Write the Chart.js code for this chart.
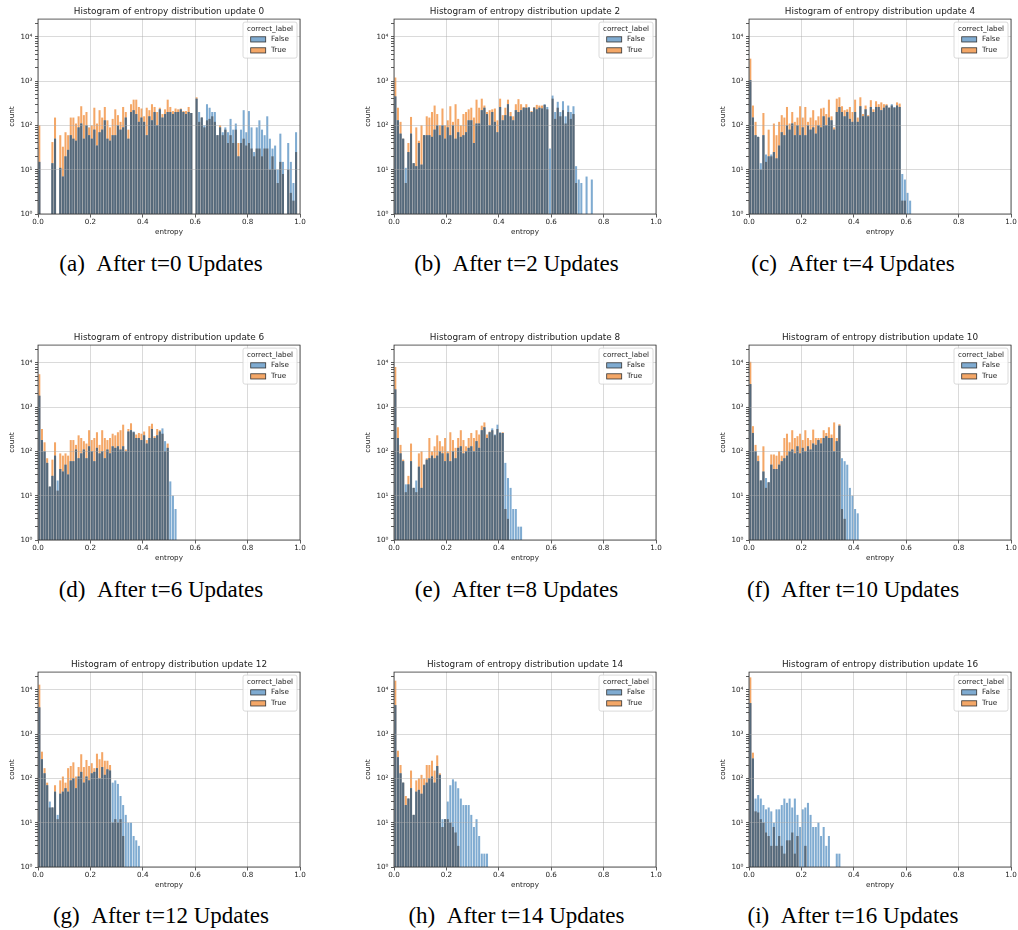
<!DOCTYPE html>
<html>
<head>
<meta charset="utf-8">
<script src="https://cdn.jsdelivr.net/npm/chart.js@4.4.0/dist/chart.umd.min.js"></script>
<style>
  body { margin: 0; background: #fff; width: 1018px; height: 930px; position: relative; overflow: hidden; }
  canvas { position: absolute; }
  .cap { position: absolute; width: 320px; text-align: center; font-family: 'Liberation Serif', 'Times New Roman', serif;
         font-size: 23px; line-height: 1; color: #000; white-space: nowrap; }
</style>
</head>
<body>
<script>
// histogram counts per 0.01-wide entropy bin, starting at 0.0
const binWidth = 0.01;
const updates = [0, 2, 4, 6, 8, 10, 12, 14, 16];
const letters = ['a', 'b', 'c', 'd', 'e', 'f', 'g', 'h', 'i'];
const xTicks = [0, 0.2, 0.4, 0.6, 0.8, 1.0];
const yDecades = [1, 10, 100, 1000, 10000];

const false0 = [15,0,0,0,0,14,50,0,11,7, 20,28,60,50,45,90,110,50,100,60, 50,80,35,70,80,130,50,45,60,60,
  100,80,90,150,50,200,220,180,120,150, 120,60,160,130,200,100,230,150,180,200, 200,180,200,200,230,200,180,200,190,0,
  400,200,150,100,300,250,200,200,60,90, 70,90,70,140,80,110,20,80,220,70, 210,90,25,90,130,80,60,160,50,30,
  35,10,65,15,0,40,15,5,70];
const true0 = [100,0,0,0,0,42,150,0,60,33, 70,60,150,150,110,160,270,170,200,90, 100,250,110,220,150,260,130,90,140,230,
  170,120,260,200,80,300,380,380,260,240, 160,250,220,300,260,200,250,180,230,380, 260,210,240,230,240,210,210,260,190,0,
  430,120,150,90,130,140,160,120,60,100, 60,80,40,60,40,80,40,40,50,35, 40,30,20,30,30,20,30,30,10,20,
  10,5,15,8,0,10,3,2,25];

const false2 = [450,130,65,50,11,25,65,14,12,40, 13,60,60,60,55,80,100,60,100,50, 90,60,100,50,70,55,60,70,130,130,
  40,110,110,220,250,180,100,200,120,70, 260,130,170,300,160,130,220,200,220,250, 250,260,200,250,230,250,240,300,260,30,
  470,200,340,200,350,160,280,200,270,12, 6,5,0,7,0,6];
const true2 = [1200,250,120,50,5,40,155,14,90,45, 100,60,160,150,200,280,180,100,240,100, 130,270,120,300,140,100,180,200,230,250,
  150,380,250,400,280,200,220,230,240,130, 400,170,250,380,200,160,300,390,300,260, 300,250,210,260,290,280,280,290,230,0,
  400,140,250,160,220,110,200,140,180,5, 0,0,0,0,0,0];

const false4 = [1050,150,60,55,14,60,22,20,22,25, 18,35,70,60,100,80,110,60,100,60, 90,60,100,80,90,65,100,90,160,100,
  150,130,80,200,260,200,160,200,140,120, 200,120,270,160,230,160,260,200,260,260, 220,250,280,250,300,260,280,260,8,6,
  3,2];
const true4 = [3200,280,120,55,10,190,15,80,20,110, 60,120,170,150,260,110,200,120,150,270, 150,260,120,150,220,130,160,240,250,180,
  380,160,90,400,430,270,220,230,260,200, 380,150,430,180,280,170,370,230,350,300, 330,300,300,250,280,250,330,310,2,2,
  0,0];

const false6 = [1800,180,100,55,16,28,80,22,40,35, 50,30,60,60,110,70,90,110,70,130, 100,60,120,90,100,70,110,90,130,120,
  130,110,130,100,280,300,280,200,200,180, 230,150,200,320,200,230,280,330,170,120, 21,10,5];
const true6 = [5500,320,160,70,16,65,160,13,90,80, 90,80,180,180,140,230,200,170,150,300, 180,200,270,140,300,200,180,200,250,230,
  270,300,400,110,320,430,270,240,260,250, 280,180,370,420,220,320,300,250,100,150, 0,0,0];

const false8 = [2500,200,90,60,18,18,60,15,22,45, 15,50,65,70,80,70,80,100,90,60, 90,60,100,70,120,130,90,100,120,130,
  100,170,120,300,350,200,270,330,240,400, 270,260,55,25,15,5,5,2,2];
const true8 = [8000,350,140,65,12,28,150,15,12,90, 100,50,70,200,100,130,230,170,130,200, 100,270,180,120,200,300,180,130,200,260,
  200,300,240,380,450,240,280,300,230,320, 260,270,5,3,0,0,0,0,0];

const false10 = [3300,260,100,60,22,35,25,20,50,40, 40,50,60,70,80,100,110,90,130,90, 120,100,130,110,150,140,180,150,200,220,
  200,200,100,170,380,70,60,50,15,10, 5,4];
const true10 = [10500,370,140,80,22,130,15,20,85,85, 80,100,80,200,250,160,300,200,220,250, 180,300,200,180,310,200,200,200,300,260,
  350,240,450,200,410,5,3,1,0,0, 0,0];

const false12 = [4000,270,130,70,30,22,50,15,45,50, 60,50,90,100,60,110,140,80,110,90, 130,140,170,100,180,120,160,150,80,90,
  75,40,25,15,10,10,5,4,3];
const true12 = [13000,400,170,80,22,22,70,12,90,110, 80,170,190,230,110,180,350,180,260,190, 220,170,360,270,390,250,250,200,10,12,
  10,12,5,1,0,0,0,0,0];

const false14 = [4500,300,130,80,25,35,60,15,50,55, 45,70,80,100,110,80,190,120,12,12, 30,70,95,85,60,35,25,25,25,15,
  8,12,5,2,2,2];
const true14 = [16000,420,200,80,40,35,150,15,90,100, 120,100,200,200,250,150,330,130,8,12, 12,10,8,6,3,1,0,0,0,0,
  0,0,0,0,0,0];

const false16 = [5000,280,35,42,35,25,20,22,18,10, 20,20,25,35,28,35,22,35,15,8, 20,22,28,15,8,8,10,5,8,3,
  5,0,0,2,2];
const true16 = [19000,380,18,17,12,10,6,5,3,8, 3,5,3,2,4,4,6,2,5,1, 0,3,1,0,0,0,0,0,0,0,
  0,0,0,0,0];

const falseCounts = [false0, false2, false4, false6, false8, false10, false12, false14, false16];
const trueCounts = [true0, true2, true4, true6, true8, true10, true12, true14, true16];

// page layout
const canvasLefts = [0, 356, 711];
const canvasTops = [0, 326, 653];
const capX = [161, 516.5, 853];
const capY = [264, 590, 916];
const W = 308, H = 240;

const blueTip = '#7fabd1';
const orangeTip = '#f4a767';
const overlapCol = '#56697a';

Chart.defaults.font.family = "'DejaVu Sans', sans-serif";
Chart.defaults.color = '#222';

function toPoints(counts) {
  return counts.map((c, i) => ({ x: (i + 0.5) * binWidth, y: c > 0 ? c : null }));
}

function isDecade(v) {
  return yDecades.includes(v);
}

const supers = ['⁰', '¹', '²', '³', '⁴'];

const frameAndLegend = {
  id: 'frameAndLegend',
  afterDraw(chart) {
    const { ctx, chartArea: a } = chart;
    ctx.save();
    ctx.strokeStyle = '#333';
    ctx.lineWidth = 0.8;
    ctx.strokeRect(a.left, a.top, a.right - a.left, a.bottom - a.top);

    // legend box, top right
    const w = 54, h = 36;
    const x = a.right - w - 3, y = a.top + 3;
    ctx.fillStyle = 'rgba(255,255,255,0.85)';
    ctx.strokeStyle = '#d0d0d0';
    ctx.lineWidth = 0.8;
    ctx.beginPath();
    ctx.roundRect(x, y, w, h, 2);
    ctx.fill();
    ctx.stroke();
    ctx.fillStyle = '#222';
    ctx.font = "7.2px 'DejaVu Sans'";
    ctx.textAlign = 'center';
    ctx.textBaseline = 'middle';
    ctx.fillText('correct_label', x + w / 2, y + 6.8);
    ctx.textAlign = 'left';
    [['False', blueTip, 17.3], ['True', orangeTip, 28.3]].forEach(([label, col, dy]) => {
      ctx.fillStyle = col;
      ctx.fillRect(x + 7.7, y + dy - 2.6, 15, 5.2);
      ctx.strokeStyle = '#333';
      ctx.lineWidth = 0.8;
      ctx.strokeRect(x + 7.7, y + dy - 2.6, 15, 5.2);
      ctx.fillStyle = '#222';
      ctx.fillText(label, x + 28, y + dy);
    });
    ctx.restore();
  }
};

updates.forEach((u, k) => {
  const row = Math.floor(k / 3), col = k % 3;
  const canvas = document.createElement('canvas');
  canvas.width = W;
  canvas.height = H;
  canvas.style.left = canvasLefts[col] + 'px';
  canvas.style.top = canvasTops[row] + 'px';
  document.body.appendChild(canvas);

  const f = falseCounts[k], t = trueCounts[k];
  const overlap = f.map((v, i) => Math.min(v, t[i]));
  const barOpts = { grouped: false, barPercentage: 0.78, categoryPercentage: 1, borderWidth: 0 };

  new Chart(canvas.getContext('2d'), {
    type: 'bar',
    data: {
      datasets: [
        { label: 'both', data: toPoints(overlap), backgroundColor: overlapCol, order: 0, ...barOpts },
        { label: 'False', data: toPoints(f), backgroundColor: blueTip, order: 1, ...barOpts },
        { label: 'True', data: toPoints(t), backgroundColor: orangeTip, order: 2, ...barOpts }
      ]
    },
    options: {
      responsive: false,
      animation: false,
      layout: { padding: { right: 8 } },
      plugins: {
        legend: { display: false },
        tooltip: { enabled: false },
        title: {
          display: true,
          fullSize: false,
          text: 'Histogram of entropy distribution update ' + u,
          font: { size: 8.9, weight: 'normal' },
          color: '#222',
          padding: { top: 6, bottom: 2.4 }
        }
      },
      scales: {
        x: {
          type: 'linear',
          min: 0,
          max: 1,
          offset: false,
          afterFit: s => { s.height = 26; },
          afterBuildTicks: s => { s.ticks = xTicks.map(v => ({ value: v })); },
          grid: { offset: false, z: 1, color: 'rgba(170,170,170,0.55)', lineWidth: 0.8,
                  tickColor: '#333', tickLength: 3.5 },
          border: { display: false },
          ticks: { font: { size: 7.2 }, padding: 0.5, maxRotation: 0, autoSkip: false,
                   callback: v => Number(v).toFixed(1) },
          title: { display: true, text: 'entropy', font: { size: 7.2 }, padding: { top: 0, bottom: 4 } }
        },
        y: {
          type: 'logarithmic',
          min: 1,
          max: 25000,
          afterFit: s => { s.width = 38; },
          afterBuildTicks: s => {
            const ticks = [];
            yDecades.forEach(d => {
              for (let m = 1; m <= 9; m++) {
                if (d * m <= 25000) ticks.push({ value: d * m, major: m === 1 });
              }
            });
            s.ticks = ticks;
          },
          grid: { z: 1, lineWidth: 0.8,
                  color: c => (c.tick && isDecade(c.tick.value)) ? 'rgba(170,170,170,0.55)' : 'rgba(0,0,0,0)',
                  tickColor: '#333', tickLength: 3 },
          border: { display: false },
          ticks: { font: { size: 7.2 }, padding: 2.5, autoSkip: false,
                   callback: v => isDecade(v) ? '10' + supers[Math.round(Math.log10(v))] : '' },
          title: { display: true, text: 'count', font: { size: 7.2 }, padding: { top: 8, bottom: 0 } }
        }
      }
    },
    plugins: [frameAndLegend]
  });

  const cap = document.createElement('div');
  cap.className = 'cap';
  cap.textContent = '(' + letters[k] + ')\u2002After t=' + u + ' Updates';
  cap.style.left = (capX[col] - 160) + 'px';
  cap.style.top = (capY[row] - 12) + 'px';
  document.body.appendChild(cap);
});
</script>
</body>
</html>
